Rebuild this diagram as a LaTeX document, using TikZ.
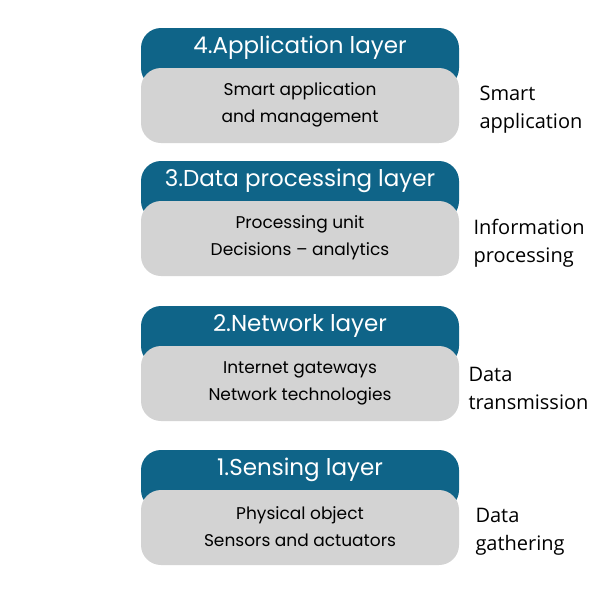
\documentclass[tikz,border=0pt]{standalone}
\usepackage{fontspec}
\setmainfont{Poppins}
\newfontfamily\sidefont{Open Sans}
\definecolor{hdr}{HTML}{0F6488}
\definecolor{body}{HTML}{D3D3D3}
\begin{document}
\begin{tikzpicture}[x=1pt,y=-1pt]
\useasboundingbox (0,0) rectangle (600,600);
\tikzset{
 hdrbox/.style={fill=hdr,rounded corners=20pt},
 bodybox/.style={fill=body,rounded corners=20pt},
 hdrtext/.style={text=white,font=\fontsize{23}{26}\selectfont},
 bodytext/.style={align=center,font=\fontsize{17}{27}\selectfont},
 sidetext/.style={align=left,anchor=west,font=\sidefont\fontsize{20}{28}\selectfont}
}
\foreach \t/\h/\a/\b/\s/\sx [count=\i] in {28/4.Application layer/Smart application/and management/Smart\\application/476,
 161/3.Data processing layer/Processing unit/Decisions – analytics/Information\\processing/470,
 306/2.Network layer/Internet gateways/Network technologies/Data\\transmission/465,
 450/1.Sensing layer/Physical object/Sensors and actuators/Data\\gathering/472}{
 \path[hdrbox] (141,\t) rectangle (459,\t+60);
 \path[bodybox] (141,\t+40) rectangle (459,\t+115);
 \node[hdrtext] (h\i) at (300,\t+20) {\h};
 \node[bodytext] (b\i) at (300,\t+77) {\a\\\b};
 \node[sidetext] (s\i) at (\sx,\t+82) {\s};
}
\end{tikzpicture}
\end{document}
